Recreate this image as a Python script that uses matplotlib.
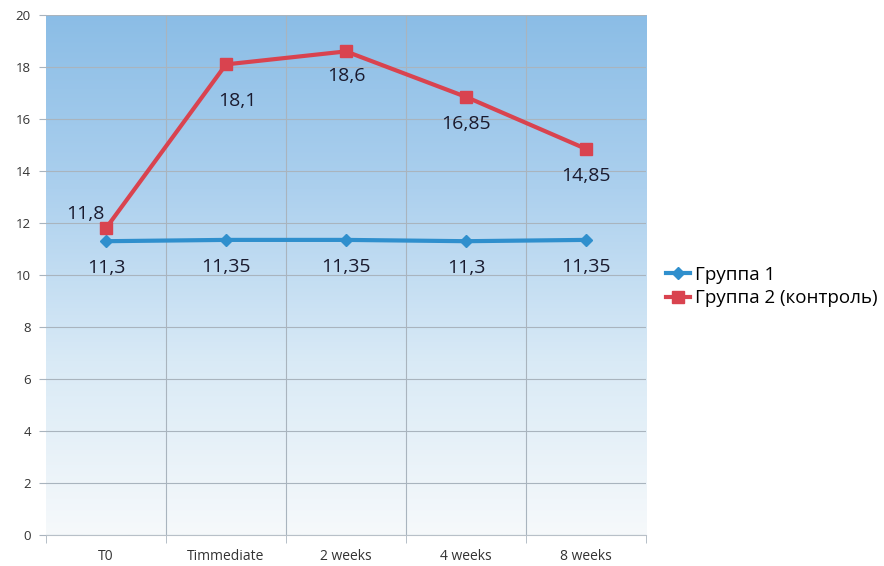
import numpy as np
import matplotlib
matplotlib.use("Agg")
import matplotlib.pyplot as plt
from matplotlib.colors import LinearSegmentedColormap

categories = ["T0", "Timmediate", "2 weeks", "4 weeks", "8 weeks"]
group1 = [11.3, 11.35, 11.35, 11.3, 11.35]
group2 = [11.8, 18.1, 18.6, 16.85, 14.85]
group1_name = "Группа 1"
group2_name = "Группа 2 (контроль)"
yticks = [0, 2, 4, 6, 8, 10, 12, 14, 16, 18, 20]

plt.rcParams['font.family'] = ['Open Sans', 'DejaVu Sans']

fig = plt.figure(figsize=(8.84, 5.66), dpi=100)
ax = fig.add_axes([46/884, 31/566, 600/884, 520/566])

n = len(categories)
x = np.arange(n)
ax.set_xlim(-0.5, n - 0.5)
ax.set_ylim(0, 20)

# vertical gradient fill of the plot area
cmap = LinearSegmentedColormap.from_list(
    "bg", ["#f6f9fb", "#d9eaf6", "#acd0ee", "#8bbde6"])
grad = np.linspace(0, 1, 256).reshape(-1, 1)
ax.imshow(grad, aspect="auto", cmap=cmap, origin="lower",
          extent=(-0.5, n - 0.5, 0, 20), zorder=0)

# grid
grid_c = "#a9b4be"
for yv in yticks:
    ax.axhline(yv, color=grid_c, lw=0.8, zorder=1)
for b in np.arange(0.5, n - 0.5, 1):
    ax.axvline(b, color=grid_c, lw=0.8, zorder=1)

for s in ax.spines.values():
    s.set_visible(False)
ax.spines['bottom'].set_visible(True)
ax.spines['bottom'].set_color("#b8c0c8")

ax.set_yticks(yticks)
ax.set_yticklabels([str(v) for v in yticks], fontsize=9.5, color="#333333")
ax.tick_params(axis="y", length=5, color=grid_c, pad=6)

ax.set_xticks(x)
ax.set_xticklabels(categories, fontsize=10, color="#333333")
ax.tick_params(axis="x", length=0, pad=10)
ax.set_xticks(np.arange(-0.5, n, 1), minor=True)
ax.tick_params(axis="x", which="minor", length=6, color=grid_c)

blue = "#2f8fcd"
red = "#d9434f"
l1, = ax.plot(x, group1, color=blue, lw=3, marker="D", ms=6.5, zorder=4,
              label=group1_name)
l2, = ax.plot(x, group2, color=red, lw=3, marker="s", ms=9, zorder=4,
              label=group2_name)

lab_kw = dict(textcoords="offset points", ha="center", va="center",
              fontsize=14, color="#1a1a2e", zorder=5)
fmt = lambda v: f"{v:g}".replace(".", ",")
for xi, v in zip(x, group1):
    ax.annotate(fmt(v), (xi, v), xytext=(0, -19.5), **lab_kw)

g2_offsets = [(-15, 10), (8, -26), (0, -18), (0, -19.5), (0, -19.5)]
for xi, v, off in zip(x, group2, g2_offsets):
    ax.annotate(fmt(v), (xi, v), xytext=off, **lab_kw)

fig.legend(handles=[l1, l2], loc="upper left",
           bbox_to_anchor=(658/884, 1 - 258/566), frameon=False,
           fontsize=13.5, handlelength=1.3, handletextpad=0.25,
           labelspacing=0.3, borderaxespad=0)

fig.savefig("out.png", dpi=100)
